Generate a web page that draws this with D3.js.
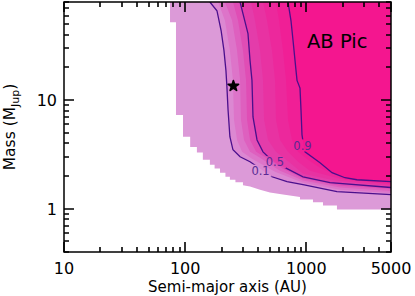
<!DOCTYPE html>
<html>
<head>
<meta charset="utf-8">
<script src="https://cdn.jsdelivr.net/npm/d3@7"></script>
<style>
  body { margin: 0; background: #fff; }
  svg { display: block; font-family: "DejaVu Sans", sans-serif; }
</style>
</head>
<body>
<svg id="chart" width="415" height="296"></svg>
<script>
// Probabilité de détection : contours, [a (AU), M (MJup)]
const edge0 = [[75,80],[75,52],[84,52],[84,7.3],[96,7.3],[96,4.6],[110,4.6],[110,3.7],[125,3.7],[125,3.3],[140,3.3],[140,2.82],[160,2.82],[160,2.54],[175,2.54],[175,2.35],[194,2.35],[194,2.15],[215,2.15],[215,1.97],[234,1.97],[234,1.85],[260,1.85],[260,1.75],[300,1.75],[300,1.65],[343,1.6],[415,1.5],[501,1.41],[642,1.35],[887,1.28],[887,1.22],[1135,1.22],[1135,1.15],[1373,1.15],[1373,1.07],[1790,1.07],[1790,0.985],[5000,0.985]];
const p01 = [[160,80],[183,66.5],[198,43.7],[209,28.7],[217,18.8],[221,13.4],[226,8.1],[234,4.6],[248,3.49],[284,3.01],[343,2.71],[423,2.31],[521,1.97],[693,1.78],[939,1.67],[1790,1.44],[5000,1.35]];
const p02 = [[187,80],[213,54],[234,28.6],[248,15.2],[253,6.6],[268,4.3],[295,3.34],[356,2.89],[552,2.19],[939,1.74],[1898,1.50],[5000,1.40]];
const p03 = [[213,80],[244,54],[268,28.6],[284,15.2],[289,6.6],[306,4.3],[343,3.34],[415,2.95],[607,2.24],[939,1.82],[1898,1.57],[5000,1.46]];
const p04 = [[248,80],[273,54],[300,28.6],[318,15.2],[324,6.6],[343,4.3],[385,3.34],[465,2.95],[642,2.34],[939,1.89],[1898,1.63],[5000,1.52]];
const p05 = [[284,80],[300,62.5],[330,41],[343,23.2],[356,15.2],[363,7.0],[392,4.3],[439,3.34],[483,3.01],[551,2.68],[667,2.39],[939,1.97],[1570,1.74],[5000,1.57]];
const p06 = [[350,80],[377,54],[415,28.6],[439,15.2],[448,6.6],[483,4.3],[562,3.34],[733,2.65],[939,2.10],[1725,1.82],[5000,1.62]];
const p07 = [[439,80],[474,54],[521,28.6],[552,15.2],[562,6.6],[607,4.3],[706,3.34],[854,2.71],[1072,2.24],[1898,1.89],[5000,1.67]];
const p08 = [[562,80],[595,54],[642,28.6],[680,15.2],[706,6.6],[762,4.3],[854,3.34],[1032,2.82],[1297,2.39],[2085,1.86],[5000,1.72]];
const p09 = [[706,80],[747,54],[777,35.4],[822,18.8],[838,15.2],[887,12.9],[904,8.1],[921,4.8],[948,3.9],[975,3.34],[1297,2.65],[1630,2.15],[2085,1.93],[2618,1.85],[5000,1.78]];

const bands = [edge0, p01, p02, p03, p04, p05, p06, p07, p08, p09];
const bandColors = ["#dc9ad8","#dc88d2","#dd74c9","#de60bf","#e04db5","#e43caa","#e832a2","#ec289c","#f01f96","#f4168f"];

// Lignes de contour tracées et leurs étiquettes
const contourLines = [p01, p05, p09];
const contourLabels = [
  { text: "0.1", a: 419, m: 2.24 },
  { text: "0.5", a: 551, m: 2.68 },
  { text: "0.9", a: 930, m: 3.83 }
];

const planet = { name: "AB Pic", a: 250, m: 13.5 };

const xDomain = [10, 5000];
const yDomain = [0.4, 80];
const xMajor = [10, 100, 1000, 5000];
const xLabels = ["10", "100", "1000", "5000"];
const yMajor = [1, 10];
const yLabels = ["1", "10"];

const pLeft = 64, pRight = 391, pTop = 2, pBottom = 252;

const svg = d3.select("#chart");
const x = d3.scaleLog().domain(xDomain).range([pLeft, pRight]);
const y = d3.scaleLog().domain(yDomain).range([pBottom, pTop]);

const defs = svg.append("defs");
defs.append("clipPath").attr("id", "plotClip")
  .append("rect")
  .attr("x", pLeft).attr("y", pTop)
  .attr("width", pRight - pLeft).attr("height", pBottom - pTop);

const line = d3.line().x(d => x(d[0])).y(d => y(d[1]));

// Bandes remplies (chaque contour fermé par le coin haut-droit)
const plot = svg.append("g").attr("clip-path", "url(#plotClip)");
plot.selectAll("path.band")
  .data(bands)
  .enter().append("path")
  .attr("class", "band")
  .attr("d", d => line(d.concat([[xDomain[1], yDomain[1]]])) + "Z")
  .attr("fill", (_, i) => bandColors[i])
  .attr("stroke", "none");

// Masque pour couper les lignes sous les étiquettes
const mask = defs.append("mask").attr("id", "labelMask")
  .attr("maskUnits", "userSpaceOnUse")
  .attr("x", 0).attr("y", 0).attr("width", 415).attr("height", 296);
mask.append("rect").attr("x", 0).attr("y", 0).attr("width", 415).attr("height", 296).attr("fill", "white");
mask.selectAll("rect.hole")
  .data(contourLabels)
  .enter().append("rect")
  .attr("class", "hole")
  .attr("x", d => x(d.a) - 11).attr("y", d => y(d.m) - 6)
  .attr("width", 22).attr("height", 12)
  .attr("fill", "black");

plot.append("g").attr("mask", "url(#labelMask)")
  .selectAll("path.cline")
  .data(contourLines)
  .enter().append("path")
  .attr("class", "cline")
  .attr("d", line)
  .attr("fill", "none")
  .attr("stroke", "#4a0f8c")
  .attr("stroke-width", 1.3);

svg.selectAll("text.clabel")
  .data(contourLabels)
  .enter().append("text")
  .attr("class", "clabel")
  .attr("x", d => x(d.a)).attr("y", d => y(d.m))
  .attr("dy", "0.36em")
  .attr("text-anchor", "middle")
  .attr("font-size", 11.5)
  .attr("fill", "#5b2a93")
  .text(d => d.text);

// Planète
svg.append("path")
  .attr("d", d3.symbol().type(d3.symbolStar).size(34)())
  .attr("transform", `translate(${x(planet.a)},${y(planet.m)})`)
  .attr("fill", "#000")
  .attr("stroke", "#000")
  .attr("stroke-width", 1.6)
  .attr("stroke-linejoin", "round");

svg.append("text")
  .attr("x", 307).attr("y", 48)
  .attr("font-size", 19.5)
  .attr("fill", "#000")
  .text(planet.name);

// Graduations vers l'intérieur sur les quatre côtés
const xMinor = x.ticks().filter(v => !xMajor.includes(v));
const yMinor = y.ticks().filter(v => !yMajor.includes(v));

const xTickData = xMinor.map(v => ({ v, len: 5 })).concat(xMajor.map(v => ({ v, len: 10 })));
const yTickData = yMinor.map(v => ({ v, len: 5 })).concat(yMajor.map(v => ({ v, len: 10 })));

let tickPath = "";
xTickData.forEach(t => {
  const px = Math.round(x(t.v));
  tickPath += `M${px},${pBottom}V${pBottom - t.len}M${px},${pTop}V${pTop + t.len}`;
});
yTickData.forEach(t => {
  const py = Math.round(y(t.v));
  tickPath += `M${pLeft},${py}H${pLeft + t.len}M${pRight},${py}H${pRight - t.len}`;
});
svg.append("path")
  .attr("d", tickPath)
  .attr("fill", "none")
  .attr("stroke", "#000")
  .attr("stroke-width", 1.6);

svg.selectAll("text.xtick")
  .data(xMajor)
  .enter().append("text")
  .attr("class", "xtick")
  .attr("x", d => x(d)).attr("y", 274)
  .attr("text-anchor", "middle")
  .attr("font-size", 16)
  .text((_, i) => xLabels[i]);

svg.selectAll("text.ytick")
  .data(yMajor)
  .enter().append("text")
  .attr("class", "ytick")
  .attr("x", 57).attr("y", d => y(d))
  .attr("dy", "0.36em")
  .attr("text-anchor", "end")
  .attr("font-size", 16)
  .text((_, i) => yLabels[i]);

svg.append("rect")
  .attr("x", pLeft).attr("y", pTop)
  .attr("width", pRight - pLeft).attr("height", pBottom - pTop)
  .attr("fill", "none").attr("stroke", "#000").attr("stroke-width", 1.5);

// Titres des axes
svg.append("text")
  .attr("x", (pLeft + pRight) / 2).attr("y", 292)
  .attr("text-anchor", "middle")
  .attr("font-size", 15)
  .text("Semi-major axis (AU)");

const yTitle = svg.append("text")
  .attr("transform", `translate(15,${(pTop + pBottom) / 2}) rotate(-90)`)
  .attr("text-anchor", "middle")
  .attr("font-size", 15.5);
yTitle.append("tspan").text("Mass (M");
yTitle.append("tspan").attr("dy", 4).attr("font-size", 11).text("Jup");
yTitle.append("tspan").attr("dy", -4).text(")");
</script>
</body>
</html>
